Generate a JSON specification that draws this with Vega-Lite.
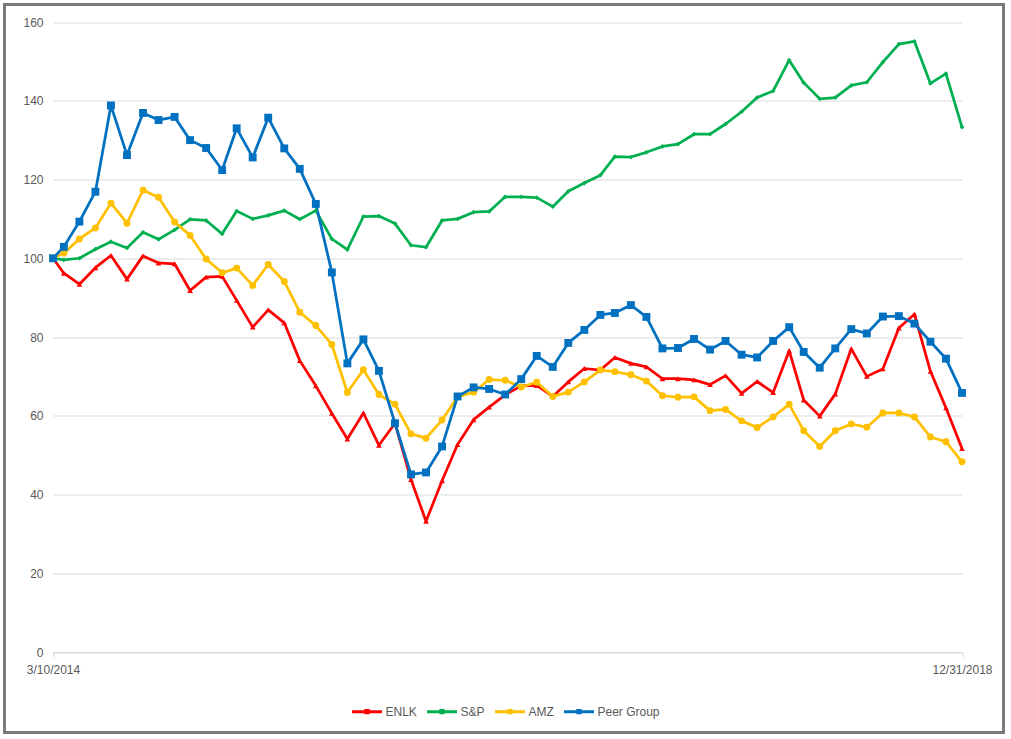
{
  "$schema": "https://vega.github.io/schema/vega-lite/v6.json",
  "width": 999,
  "height": 728,
  "autosize": {"type": "none"},
  "padding": {"left": 4.5, "top": 4.5, "right": 7.5, "bottom": 6.5},
  "background": "white",
  "config": {
    "view": {"stroke": "#7a7a7a", "strokeWidth": 3, "fill": "white"},
    "font": "Liberation Sans",
    "axis": {"labelFont": "Liberation Sans", "labelFontSize": 12, "labelColor": "#595959"},
    "legend": {"labelFont": "Liberation Sans", "labelFontSize": 12, "labelColor": "#595959"}
  },
  "data": {
    "values": [
      {"d": "2014-03-10", "ENLK": 100, "S&P": 100, "AMZ": 100, "Peer Group": 100},
      {"d": "2014-03-31", "ENLK": 96.2, "S&P": 99.6, "AMZ": 101.3, "Peer Group": 102.9},
      {"d": "2014-04-30", "ENLK": 93.4, "S&P": 100, "AMZ": 104.9, "Peer Group": 109.3},
      {"d": "2014-05-31", "ENLK": 97.6, "S&P": 102.3, "AMZ": 107.7, "Peer Group": 116.9},
      {"d": "2014-06-30", "ENLK": 100.7, "S&P": 104.2, "AMZ": 114, "Peer Group": 138.8},
      {"d": "2014-07-31", "ENLK": 94.7, "S&P": 102.6, "AMZ": 108.9, "Peer Group": 126.2},
      {"d": "2014-08-31", "ENLK": 100.6, "S&P": 106.6, "AMZ": 117.3, "Peer Group": 136.9},
      {"d": "2014-09-30", "ENLK": 98.8, "S&P": 104.8, "AMZ": 115.5, "Peer Group": 135.1},
      {"d": "2014-10-31", "ENLK": 98.6, "S&P": 107.2, "AMZ": 109.2, "Peer Group": 135.9},
      {"d": "2014-11-30", "ENLK": 91.8, "S&P": 109.9, "AMZ": 105.8, "Peer Group": 130},
      {"d": "2014-12-31", "ENLK": 95.2, "S&P": 109.6, "AMZ": 99.8, "Peer Group": 128},
      {"d": "2015-01-31", "ENLK": 95.4, "S&P": 106.2, "AMZ": 96.3, "Peer Group": 122.4},
      {"d": "2015-02-28", "ENLK": 89.3, "S&P": 112, "AMZ": 97.5, "Peer Group": 133},
      {"d": "2015-03-31", "ENLK": 82.5, "S&P": 110, "AMZ": 93.1, "Peer Group": 125.6},
      {"d": "2015-04-30", "ENLK": 86.9, "S&P": 110.9, "AMZ": 98.4, "Peer Group": 135.7},
      {"d": "2015-05-31", "ENLK": 83.6, "S&P": 112.1, "AMZ": 94.1, "Peer Group": 127.9},
      {"d": "2015-06-30", "ENLK": 74, "S&P": 109.9, "AMZ": 86.3, "Peer Group": 122.7},
      {"d": "2015-07-31", "ENLK": 67.6, "S&P": 112.1, "AMZ": 82.9, "Peer Group": 113.8},
      {"d": "2015-08-31", "ENLK": 60.6, "S&P": 104.9, "AMZ": 78.1, "Peer Group": 96.4},
      {"d": "2015-09-30", "ENLK": 54.1, "S&P": 102.2, "AMZ": 65.9, "Peer Group": 73.3},
      {"d": "2015-10-31", "ENLK": 60.7, "S&P": 110.6, "AMZ": 71.7, "Peer Group": 79.4},
      {"d": "2015-11-30", "ENLK": 52.5, "S&P": 110.7, "AMZ": 65.4, "Peer Group": 71.4},
      {"d": "2015-12-31", "ENLK": 58.1, "S&P": 108.8, "AMZ": 62.9, "Peer Group": 58.1},
      {"d": "2016-01-31", "ENLK": 43.8, "S&P": 103.3, "AMZ": 55.4, "Peer Group": 45.1},
      {"d": "2016-02-29", "ENLK": 33.2, "S&P": 102.8, "AMZ": 54.3, "Peer Group": 45.6},
      {"d": "2016-03-31", "ENLK": 43.5, "S&P": 109.6, "AMZ": 58.9, "Peer Group": 52.2},
      {"d": "2016-04-30", "ENLK": 52.7, "S&P": 110, "AMZ": 64.8, "Peer Group": 64.9},
      {"d": "2016-05-31", "ENLK": 59, "S&P": 111.7, "AMZ": 66, "Peer Group": 67.2},
      {"d": "2016-06-30", "ENLK": 62.2, "S&P": 111.9, "AMZ": 69.2, "Peer Group": 66.8},
      {"d": "2016-07-31", "ENLK": 65.3, "S&P": 115.6, "AMZ": 69, "Peer Group": 65.4},
      {"d": "2016-08-31", "ENLK": 67.6, "S&P": 115.6, "AMZ": 67.3, "Peer Group": 69.3},
      {"d": "2016-09-30", "ENLK": 67.7, "S&P": 115.4, "AMZ": 68.5, "Peer Group": 75.2},
      {"d": "2016-10-31", "ENLK": 64.9, "S&P": 113.1, "AMZ": 64.9, "Peer Group": 72.4},
      {"d": "2016-11-30", "ENLK": 68.6, "S&P": 117, "AMZ": 66, "Peer Group": 78.5},
      {"d": "2016-12-31", "ENLK": 72, "S&P": 119.1, "AMZ": 68.6, "Peer Group": 81.8},
      {"d": "2017-01-31", "ENLK": 71.6, "S&P": 121.1, "AMZ": 71.6, "Peer Group": 85.6},
      {"d": "2017-02-28", "ENLK": 74.8, "S&P": 125.8, "AMZ": 71.2, "Peer Group": 86.1},
      {"d": "2017-03-31", "ENLK": 73.3, "S&P": 125.7, "AMZ": 70.4, "Peer Group": 88.1},
      {"d": "2017-04-30", "ENLK": 72.4, "S&P": 126.9, "AMZ": 68.8, "Peer Group": 85.1},
      {"d": "2017-05-31", "ENLK": 69.4, "S&P": 128.4, "AMZ": 65.1, "Peer Group": 77.1},
      {"d": "2017-06-30", "ENLK": 69.4, "S&P": 129, "AMZ": 64.7, "Peer Group": 77.2},
      {"d": "2017-07-31", "ENLK": 69.1, "S&P": 131.5, "AMZ": 64.8, "Peer Group": 79.5},
      {"d": "2017-08-31", "ENLK": 67.9, "S&P": 131.5, "AMZ": 61.3, "Peer Group": 76.8},
      {"d": "2017-09-30", "ENLK": 70.2, "S&P": 134.1, "AMZ": 61.6, "Peer Group": 79},
      {"d": "2017-10-31", "ENLK": 65.7, "S&P": 137.2, "AMZ": 58.7, "Peer Group": 75.5},
      {"d": "2017-11-30", "ENLK": 68.7, "S&P": 140.8, "AMZ": 57, "Peer Group": 74.8},
      {"d": "2017-12-31", "ENLK": 65.9, "S&P": 142.5, "AMZ": 59.7, "Peer Group": 79},
      {"d": "2018-01-31", "ENLK": 76.5, "S&P": 150.3, "AMZ": 62.9, "Peer Group": 82.5},
      {"d": "2018-02-28", "ENLK": 64, "S&P": 144.6, "AMZ": 56.2, "Peer Group": 76.2},
      {"d": "2018-03-31", "ENLK": 59.9, "S&P": 140.5, "AMZ": 52.2, "Peer Group": 72.2},
      {"d": "2018-04-30", "ENLK": 65.5, "S&P": 140.8, "AMZ": 56.2, "Peer Group": 77.1},
      {"d": "2018-05-31", "ENLK": 77, "S&P": 143.9, "AMZ": 57.9, "Peer Group": 82},
      {"d": "2018-06-30", "ENLK": 70, "S&P": 144.7, "AMZ": 57.1, "Peer Group": 80.9},
      {"d": "2018-07-31", "ENLK": 71.9, "S&P": 149.8, "AMZ": 60.7, "Peer Group": 85.2},
      {"d": "2018-08-31", "ENLK": 82.3, "S&P": 154.4, "AMZ": 60.7, "Peer Group": 85.3},
      {"d": "2018-09-30", "ENLK": 85.8, "S&P": 155.1, "AMZ": 59.7, "Peer Group": 83.4},
      {"d": "2018-10-31", "ENLK": 71.3, "S&P": 144.4, "AMZ": 54.6, "Peer Group": 78.8},
      {"d": "2018-11-30", "ENLK": 62, "S&P": 146.9, "AMZ": 53.4, "Peer Group": 74.5},
      {"d": "2018-12-31", "ENLK": 51.7, "S&P": 133.3, "AMZ": 48.3, "Peer Group": 65.8}
    ]
  },
  "transform": [{"fold": ["ENLK", "S&P", "AMZ", "Peer Group"], "as": ["s", "v"]}],
  "encoding": {
    "x": {
      "field": "d",
      "type": "temporal",
      "scale": {
        "type": "utc",
        "domain": [{"year": 2014, "month": 3, "date": 10, "utc": true}, {"year": 2018, "month": 12, "date": 31, "utc": true}],
        "range": [48.5, 957.5],
        "nice": false
      },
      "axis": {
        "values": [{"year": 2014, "month": 3, "date": 10, "utc": true}, {"year": 2018, "month": 12, "date": 31, "utc": true}],
        "format": "%-m/%-d/%Y",
        "title": null,
        "grid": false,
        "offset": -80.5,
        "domainColor": "#d9d9d9",
        "tickColor": "#d9d9d9",
        "tickSize": 5,
        "labelPadding": 7,
        "labelFlush": false,
        "labelOverlap": false
      }
    },
    "y": {
      "field": "v",
      "type": "quantitative",
      "scale": {"domain": [0, 160], "range": [647.5, 17.5], "nice": false, "zero": false},
      "axis": {
        "values": [0, 20, 40, 60, 80, 100, 120, 140, 160],
        "title": null,
        "domain": false,
        "ticks": false,
        "offset": -48.5,
        "labelPadding": 10,
        "grid": true,
        "gridColor": "#d9d9d9",
        "gridWidth": 1
      }
    }
  },
  "layer": [
    {
      "mark": {"type": "line", "strokeWidth": 2.75, "strokeJoin": "round"},
      "encoding": {
        "color": {
          "field": "s",
          "type": "nominal",
          "scale": {"domain": ["ENLK", "S&P", "AMZ", "Peer Group"], "range": ["#ff0000", "#00b050", "#ffc000", "#0070c0"]},
          "legend": {
            "title": null,
            "orient": "none",
            "direction": "horizontal",
            "legendX": 346,
            "legendY": 690.5,
            "symbolType": "M-1,0L1,0M-0.08,-0.08L0.08,-0.08L0.08,0.08L-0.08,0.08Z",
            "symbolSize": 900,
            "symbolStrokeWidth": 3,
            "labelOffset": 2,
            "columnPadding": 3
          }
        }
      }
    },
    {
      "transform": [{"filter": "datum.s === 'ENLK'"}],
      "mark": {"type": "point", "filled": true, "opacity": 1, "shape": "triangle-up", "size": 32, "color": "#ff0000"}
    },
    {
      "transform": [{"filter": "datum.s === 'S&P'"}],
      "mark": {"type": "point", "filled": true, "opacity": 1, "shape": "diamond", "size": 22, "color": "#00b050"}
    },
    {
      "transform": [{"filter": "datum.s === 'AMZ'"}],
      "mark": {"type": "point", "filled": true, "opacity": 1, "shape": "circle", "size": 48, "color": "#ffc000"}
    },
    {
      "transform": [{"filter": "datum.s === 'Peer Group'"}],
      "mark": {"type": "point", "filled": true, "opacity": 1, "shape": "square", "size": 62, "color": "#0070c0"}
    }
  ]
}
